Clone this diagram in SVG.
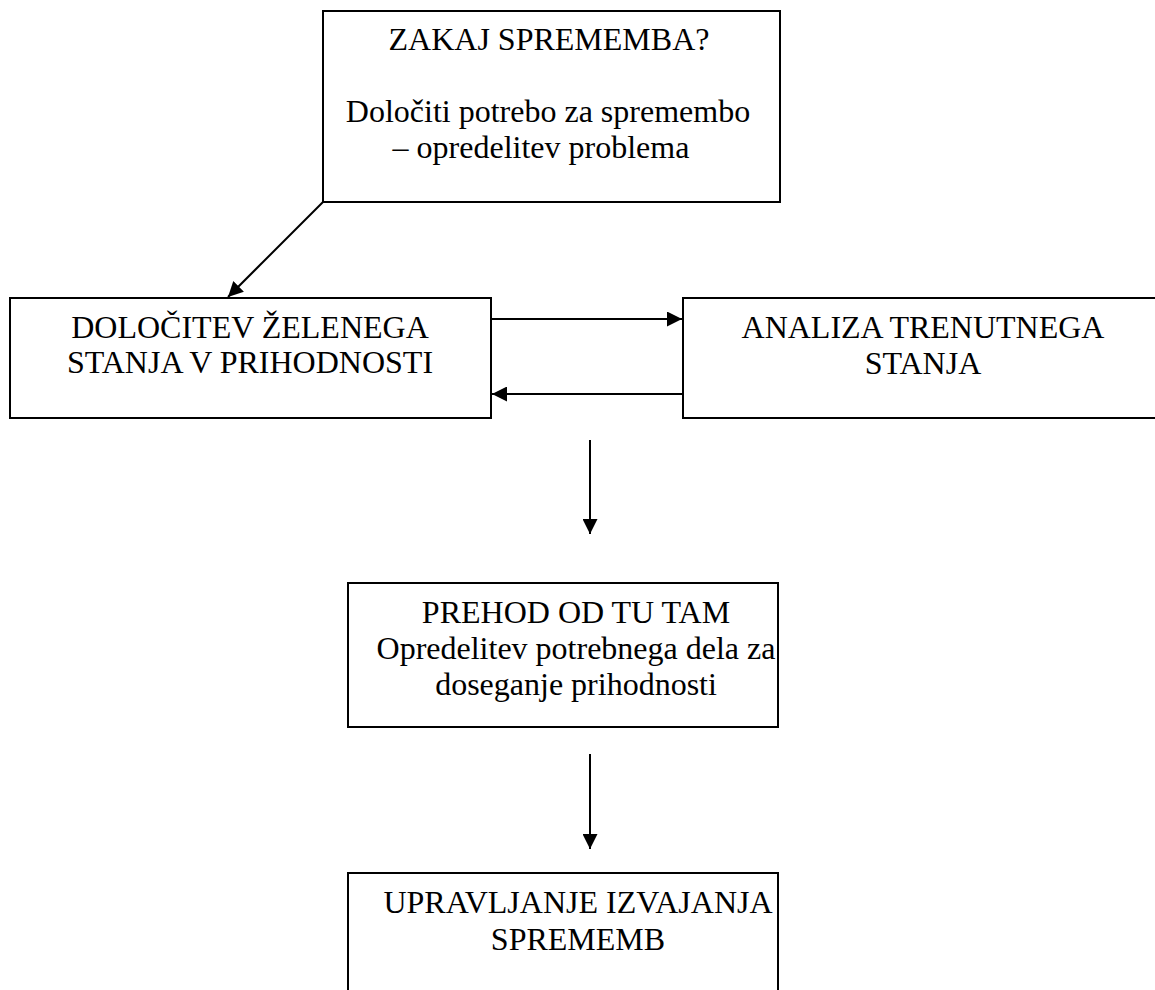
<svg xmlns="http://www.w3.org/2000/svg" width="1155" height="990" viewBox="0 0 1155 990">
<defs>
<marker id="ah" markerWidth="15" markerHeight="15" refX="15" refY="7.5" orient="auto" markerUnits="userSpaceOnUse">
<path d="M0,0 L15,7.5 L0,15 Z" fill="#000"/>
</marker>
<style>
.box{fill:#fff;stroke:#000;stroke-width:2}
.t{font-family:"Liberation Serif","Times New Roman",serif;font-size:32px;fill:#000;text-anchor:middle}
.c{stroke:#000;stroke-width:2;fill:none;marker-end:url(#ah)}
</style>
</defs>
<rect width="1155" height="990" fill="#fff"/>
<g id="n1">
<rect class="box" x="323" y="11" width="457" height="191"/>
<text class="t" x="549" y="50">ZAKAJ SPREMEMBA?</text>
<text class="t" x="548" y="122">Določiti potrebo za spremembo</text>
<text class="t" x="541" y="158">– opredelitev problema</text>
</g>
<g id="n2">
<rect class="box" x="10" y="298" width="481" height="120"/>
<text class="t" x="250" y="338">DOLOČITEV ŽELENEGA</text>
<text class="t" x="250" y="373">STANJA V PRIHODNOSTI</text>
</g>
<g id="n3">
<rect class="box" x="683" y="298" width="490" height="120"/>
<text class="t" x="923" y="338">ANALIZA TRENUTNEGA</text>
<text class="t" x="923" y="374">STANJA</text>
</g>
<g id="n4">
<rect class="box" x="348" y="583" width="430" height="144"/>
<text class="t" x="576" y="623">PREHOD OD TU TAM</text>
<text class="t" x="576" y="659">Opredelitev potrebnega dela za</text>
<text class="t" x="576" y="695">doseganje prihodnosti</text>
</g>
<g id="n5">
<rect class="box" x="348" y="873" width="430" height="140"/>
<text class="t" x="578" y="913">UPRAVLJANJE IZVAJANJA</text>
<text class="t" x="578" y="950">SPREMEMB</text>
</g>
<g id="connectors">
<line class="c" x1="323" y1="202" x2="228" y2="297"/>
<line class="c" x1="491" y1="319" x2="682" y2="319"/>
<line class="c" x1="683" y1="394" x2="492" y2="394"/>
<line class="c" x1="590" y1="440" x2="590" y2="534"/>
<line class="c" x1="590" y1="754" x2="590" y2="849"/>
</g>
</svg>
